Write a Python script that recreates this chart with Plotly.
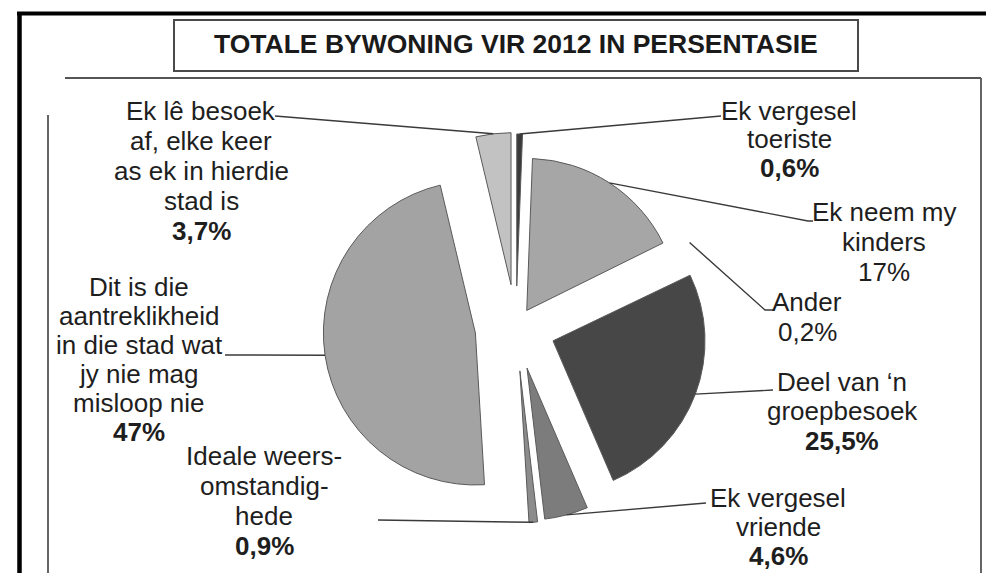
import math
import plotly.graph_objects as go

W, H = 994, 573

# ---------------- data ----------------
title = "TOTALE BYWONING VIR 2012 IN PERSENTASIE"
categories = [
    "Ek vergesel toeriste",
    "Ek neem my kinders",
    "Ander",
    "Deel van ‘n groepbesoek",
    "Ek vergesel vriende",
    "Ideale weersomstandighede",
    "Dit is die aantreklikheid in die stad wat jy nie mag misloop nie",
    "Ek lê besoek af, elke keer as ek in hierdie stad is",
]
values = [0.6, 17, 0.2, 25.5, 4.6, 0.9, 47, 3.7]
pct_labels = ["0,6%", "17%", "0,2%", "25,5%", "4,6%", "0,9%", "47%", "3,7%"]
label_lines = [
    ["Ek vergesel", "toeriste"],
    ["Ek neem my", "kinders"],
    ["Ander"],
    ["Deel van ‘n", "groepbesoek"],
    ["Ek vergesel", "vriende"],
    ["Ideale weers-", "omstandig-", "hede"],
    ["Dit is die", "aantreklikheid", "in die stad wat", "jy nie mag", "misloop nie"],
    ["Ek lê besoek", "af, elke keer", "as ek in hierdie", "stad is"],
]

# ---------------- style / layout ----------------
pct_bold = [True, False, False, True, True, True, True, True]
colors = ["#3a3a3a", "#a6a6a6", "rgba(255,255,255,0)", "#474747", "#7c7c7c", "#8c8c8c", "#a3a3a3", "#c2c2c2"]
line_widths = [1, 1, 0, 1, 1, 1, 1, 1]
pulls = [0.27, 0.13, 0.27, 0.26, 0.28, 0.29, 0.27, 0.28]

# pie centre / radius in pixels
CX, CY, R = 508, 319, 152
half = R * (1 + max(pulls))
dom_x = [(CX - half) / W, (CX + half) / W]
dom_y = [1 - (CY + half) / H, 1 - (CY - half) / H]

# label block: centre x, first baseline y, line spacing
label_pos = [(781, 112, 28.5), (876, 213, 30), (799, 303, 30), (834, 383, 29.5),
             (770, 499, 29), (256, 457, 30), (131, 288, 29), (193, 112, 30)]
# leader line points on the label side (from slice outward)
leader_pts = [
    [(713, 108)],
    [(800, 213), (805, 213)],
    [(757, 302), (765, 302)],
    [(765, 382)],
    [(698, 495)],
    [(370, 512)],
    [(217, 347)],
    [(267, 108)],
]

FONT = "Liberation Sans, Arial, sans-serif"
FS = 26


def px(x):
    return x / W


def py(y):
    return 1 - y / H


fig = go.Figure()
fig.add_trace(go.Pie(
    labels=categories,
    values=values,
    sort=False,
    direction="clockwise",
    rotation=0,
    pull=pulls,
    marker=dict(colors=colors, line=dict(color="#5a5a5a", width=line_widths)),
    textinfo="none",
    hoverinfo="skip",
    showlegend=False,
    domain=dict(x=dom_x, y=dom_y),
))

shapes = []
annotations = []

# leader lines computed from slice geometry
total = sum(values)
cum = 0.0
for i, v in enumerate(values):
    mid = (cum + v / 2) / total * 2 * math.pi
    cum += v
    rr = (1 + pulls[i]) * R
    ax = CX + rr * math.sin(mid)
    ay = CY - rr * math.cos(mid)
    path = f"M {px(ax)},{py(ay)}"
    for (x, y) in leader_pts[i]:
        path += f" L {px(x)},{py(y)}"
    shapes.append(dict(type="path", xref="paper", yref="paper", path=path,
                       line=dict(color="#3a3a3a", width=1.4)))

# labels (each line separately for tight line spacing)
for i, lines in enumerate(label_lines):
    x0, b0, gap = label_pos[i]
    all_lines = lines + [pct_labels[i]]
    for k, t in enumerate(all_lines):
        base = b0 + k * gap
        is_pct = k == len(all_lines) - 1
        txt = f"<b>{t}</b>" if (is_pct and pct_bold[i]) else t
        annotations.append(dict(
            x=px(x0), y=py(base - 0.3465 * FS), xref="paper", yref="paper",
            text=txt, showarrow=False, xanchor="center", yanchor="middle",
            font=dict(family=FONT, size=FS, color="#1e1e1e"),
        ))

# title
annotations.append(dict(
    x=px(508), y=py(45 - 0.3465 * 26.5), xref="paper", yref="paper",
    text=f"<b>{title}</b>", showarrow=False, xanchor="center", yanchor="middle",
    font=dict(family=FONT, size=26.5, color="#1a1a1a"),
))

# title box
shapes.append(dict(type="rect", xref="paper", yref="paper",
                   x0=px(166), x1=px(850), y0=py(63), y1=py(12),
                   line=dict(color="#4a4a4a", width=2)))
# inner chart frame
frame_lines = [((57, 70), (973, 70)), ((973, 70), (973, 567)),
               ((40, 567), (973, 567)), ((40, 107), (40, 567))]
for (a, b) in frame_lines:
    shapes.append(dict(type="line", xref="paper", yref="paper",
                       x0=px(a[0]), y0=py(a[1]), x1=px(b[0]), y1=py(b[1]),
                       line=dict(color="#555555", width=1.8)))
# thick black page border
shapes.append(dict(type="line", xref="paper", yref="paper",
                   x0=px(9), y0=py(5.5), x1=px(985), y1=py(5.5),
                   line=dict(color="#000000", width=4)))
shapes.append(dict(type="line", xref="paper", yref="paper",
                   x0=px(11.5), y0=py(4), x1=px(11.5), y1=py(573),
                   line=dict(color="#000000", width=4.5)))

fig.update_layout(
    width=W, height=H,
    margin=dict(l=0, r=0, t=0, b=0),
    paper_bgcolor="white", plot_bgcolor="white",
    shapes=shapes, annotations=annotations,
)

fig.write_html("out.html")
